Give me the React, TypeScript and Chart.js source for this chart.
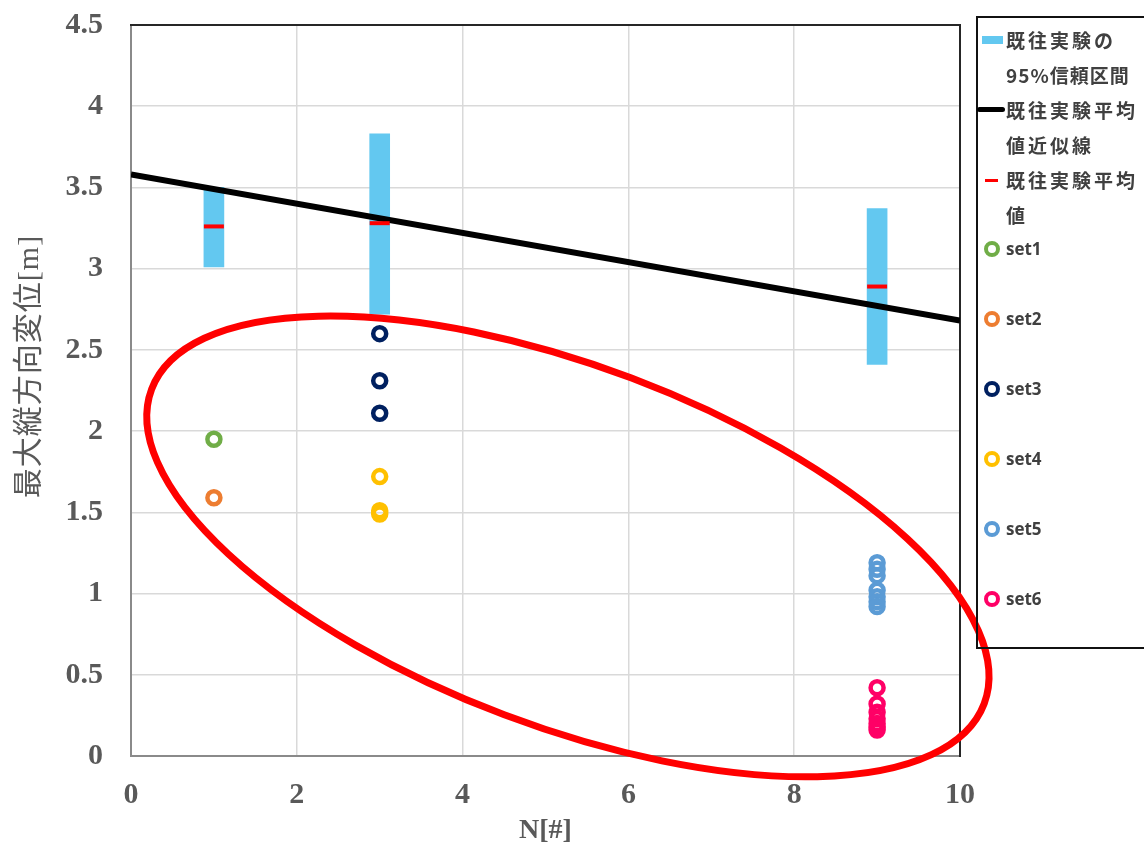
import React, { useEffect, useRef } from "react";
import { Chart, registerables } from "chart.js";

Chart.register(...registerables);

// ---- data ----
const ciX = [1, 3, 9];
const ciLow = [3.01, 2.72, 2.41];
const ciHigh = [3.5, 3.83, 3.37];
const meanY = [3.26, 3.28, 2.89];

const trendX = [0, 10];
const trendY = [3.58, 2.68];

const set1X = [1];
const set1Y = [1.95];
const set2X = [1];
const set2Y = [1.59];
const set3X = [3, 3, 3];
const set3Y = [2.6, 2.31, 2.11];
const set4X = [3, 3, 3];
const set4Y = [1.72, 1.51, 1.49];
const set5X = [9, 9, 9, 9, 9, 9, 9];
const set5Y = [1.19, 1.15, 1.11, 1.02, 0.98, 0.95, 0.92];
const set6X = [9, 9, 9, 9, 9, 9, 9];
const set6Y = [0.42, 0.32, 0.27, 0.23, 0.2, 0.18, 0.16];

const xMin = 0;
const xMax = 10;
const xStep = 2;
const yMin = 0;
const yMax = 4.5;
const yStep = 0.5;

const xTitle = "N[#]";
const yTitle = "最大縦方向変位[m]";

const setNames = ["set1", "set2", "set3", "set4", "set5", "set6"];
const setColors = ["#70AD47", "#ED7D31", "#002060", "#FFC000", "#5B9BD5", "#FF0066"];
const ciLabel = ["既往実験の", "95%信頼区間"];
const trendLabel = ["既往実験平均", "値近似線"];
const meanLabel = ["既往実験平均", "値"];

// annotation ellipse (centre in data units)
const ellipseCenter = [5.27, 1.29];
const ellipseRadiiPx = [445, 180];
const ellipseAngleDeg = 20.7;

const pts = (xs: number[], ys: number[]) => xs.map((x, i) => ({ x, y: ys[i] }));

const TICK_FONT = { family: '"Liberation Serif", "Times New Roman", serif', size: 30, weight: "bold" as const };
const TICK_COLOR = "#595959";

const framePlugin = {
  id: "frame",
  beforeDatasetsDraw(chart: any) {
    const { ctx, chartArea: a } = chart;
    ctx.save();
    ctx.lineWidth = 2;
    ctx.strokeStyle = "#8a8a8a";
    ctx.beginPath();
    ctx.moveTo(a.left, a.top);
    ctx.lineTo(a.left, a.bottom);
    ctx.lineTo(a.right, a.bottom);
    ctx.stroke();
    ctx.strokeStyle = "#262626";
    ctx.beginPath();
    ctx.moveTo(a.left - 1, a.top);
    ctx.lineTo(a.right, a.top);
    ctx.lineTo(a.right, a.bottom + 1);
    ctx.stroke();
    ctx.restore();
  },
};

const overlayPlugin = {
  id: "overlay",
  afterDraw(chart: any) {
    const { ctx, chartArea: a, scales } = chart;
    // y axis title
    ctx.save();
    ctx.translate(30, (a.top + a.bottom) / 2 - 24);
    ctx.rotate(-Math.PI / 2);
    ctx.font = '30px "Liberation Serif", "Noto Sans CJK JP", serif';
    ctx.fillStyle = TICK_COLOR;
    ctx.textAlign = "center";
    ctx.textBaseline = "middle";
    try {
      (ctx as any).letterSpacing = "1px";
    } catch (e) {}
    ctx.fillText(yTitle, 0, 0);
    ctx.restore();

    // red ellipse annotation
    const cx = scales.x.getPixelForValue(ellipseCenter[0]);
    const cy = scales.y.getPixelForValue(ellipseCenter[1]);
    ctx.save();
    ctx.strokeStyle = "#FF0000";
    ctx.lineWidth = 7;
    ctx.beginPath();
    ctx.ellipse(cx, cy, ellipseRadiiPx[0], ellipseRadiiPx[1], (ellipseAngleDeg * Math.PI) / 180, 0, Math.PI * 2);
    ctx.stroke();
    ctx.restore();
  },
};

function Legend() {
  const textStyle: React.CSSProperties = {
    position: "absolute",
    left: 1006,
    fontFamily: '"Noto Sans CJK JP", "Noto Sans", sans-serif',
    fontWeight: 700,
    fontSize: 19,
    letterSpacing: "3px",
    color: "#404040",
    whiteSpace: "nowrap",
    lineHeight: "24px",
    transform: "translateY(-12px)",
  };
  const setStyle: React.CSSProperties = {
    ...textStyle,
    fontFamily: '"Open Sans", "Noto Sans", sans-serif',
    fontSize: 17,
    letterSpacing: "0px",
  };
  const rows: [string, number][] = [
    [ciLabel[0], 40],
    [ciLabel[1], 75],
    [trendLabel[0], 110],
    [trendLabel[1], 145],
    [meanLabel[0], 180],
    [meanLabel[1], 215],
  ];
  const setYs = [249, 319, 389, 459, 529, 599];
  return (
    <>
      <div
        style={{
          position: "absolute",
          left: 976,
          top: 16,
          width: 200,
          height: 633,
          border: "2px solid #111",
          boxSizing: "border-box",
          background: "transparent",
        }}
      />
      <div style={{ position: "absolute", left: 982, top: 36, width: 21, height: 8, background: "#63C8F0" }} />
      <div style={{ position: "absolute", left: 977, top: 107, width: 28, height: 5, background: "#000", borderRadius: 3 }} />
      <div style={{ position: "absolute", left: 985, top: 179, width: 13, height: 3, background: "#FF0000" }} />
      {rows.map(([t, y], i) => (
        <div key={"r" + i} style={{ ...textStyle, top: y, letterSpacing: i === 1 ? "1px" : "3px" }}>
          {t}
        </div>
      ))}
      {setNames.map((n, i) => (
        <React.Fragment key={n}>
          <div
            style={{
              position: "absolute",
              left: 984,
              top: setYs[i] - 8,
              width: 16,
              height: 16,
              borderRadius: "50%",
              border: `4px solid ${setColors[i]}`,
              boxSizing: "border-box",
            }}
          />
          <div style={{ ...setStyle, top: setYs[i] }}>{n}</div>
        </React.Fragment>
      ))}
    </>
  );
}

export default function App() {
  const canvasRef = useRef<HTMLCanvasElement | null>(null);

  useEffect(() => {
    document.body.style.margin = "0";
    document.body.style.overflow = "hidden";
    const canvas = canvasRef.current;
    if (!canvas) return;

    const ringDs = (i: number, xs: number[], ys: number[]) => ({
      type: "scatter" as const,
      label: setNames[i],
      data: pts(xs, ys),
      borderColor: setColors[i],
      backgroundColor: "rgba(0,0,0,0)",
      pointRadius: 6.5,
      pointBorderWidth: 4.5,
      pointHoverRadius: 6.5,
      showLine: false,
      order: 1,
    });

    const chart = new Chart(canvas, {
      type: "scatter",
      data: {
        datasets: [
          {
            type: "bar" as const,
            label: ciLabel.join(""),
            data: ciX.map((x, i) => ({ x, y: [ciLow[i], ciHigh[i]] })) as any,
            backgroundColor: "#63C8F0",
            borderWidth: 0,
            barThickness: 20,
            order: 10,
          } as any,
          {
            type: "line" as const,
            label: trendLabel.join(""),
            data: pts(trendX, trendY),
            borderColor: "#000000",
            borderWidth: 6,
            pointRadius: 0,
            fill: false,
            order: 9,
          } as any,
          {
            type: "scatter" as const,
            label: meanLabel.join(""),
            data: pts(ciX, meanY),
            pointStyle: "line",
            pointRadius: 10,
            pointBorderWidth: 4,
            borderColor: "#FF0000",
            backgroundColor: "#FF0000",
            order: 8,
          } as any,
          ringDs(0, set1X, set1Y),
          ringDs(1, set2X, set2Y),
          ringDs(2, set3X, set3Y),
          ringDs(3, set4X, set4Y),
          ringDs(4, set5X, set5Y),
          ringDs(5, set6X, set6Y),
        ] as any,
      },
      options: {
        responsive: false,
        animation: false,
        devicePixelRatio: 1,
        layout: { padding: { top: 25, right: 1144 - 960, bottom: 0, left: 0 } },
        plugins: { legend: { display: false }, tooltip: { enabled: false } },
        scales: {
          x: {
            type: "linear",
            min: xMin,
            max: xMax,
            offset: false,
            ticks: { stepSize: xStep, font: TICK_FONT, color: TICK_COLOR, padding: 21, autoSkip: false },
            grid: { color: "#d9d9d9", lineWidth: 1.5, drawTicks: false, offset: false },
            border: { display: false },
            title: {
              display: true,
              text: xTitle,
              font: { family: '"Liberation Serif", "Times New Roman", serif', size: 28, weight: "bold" },
              color: TICK_COLOR,
              padding: { top: 0, bottom: 2 },
            },
            afterFit: (s: any) => {
              s.height = 850 - 756;
              s.paddingLeft = 0;
              s.paddingRight = 0;
              s.paddingTop = 0;
              s.paddingBottom = 0;
            },
          } as any,
          y: {
            type: "linear",
            min: yMin,
            max: yMax,
            ticks: {
              stepSize: yStep,
              font: TICK_FONT,
              color: TICK_COLOR,
              padding: 28,
              callback: (v: any) => String(Number(v)),
            },
            grid: { color: "#d9d9d9", lineWidth: 1.5, drawTicks: false },
            border: { display: false },
            afterFit: (s: any) => {
              s.width = 131;
              s.paddingTop = 0;
              s.paddingBottom = 0;
              s.paddingLeft = 0;
              s.paddingRight = 0;
            },
          } as any,
        },
      },
      plugins: [framePlugin, overlayPlugin],
    });

    return () => chart.destroy();
  }, []);

  return (
    <div style={{ position: "relative", width: 1144, height: 850, overflow: "hidden", background: "#fff" }}>
      <canvas ref={canvasRef} width={1144} height={850} style={{ display: "block", width: 1144, height: 850 }} />
      <Legend />
    </div>
  );
}
